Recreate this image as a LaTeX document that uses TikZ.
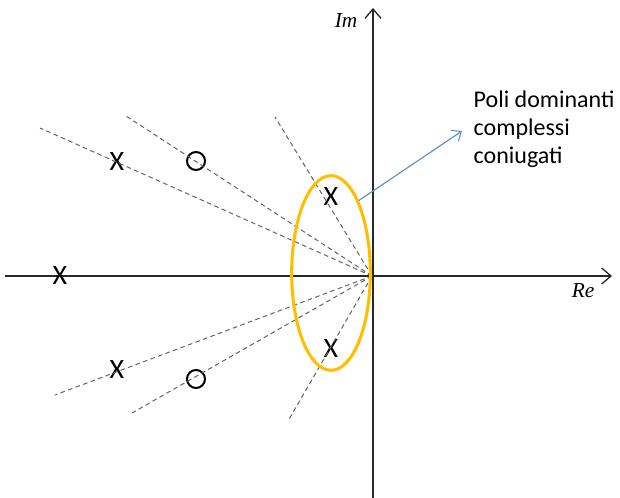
\documentclass[tikz,border=0pt]{standalone}
\usepackage{fontspec}
\setmainfont{Carlito}
\newfontfamily\mathlike{Liberation Serif}
\usetikzlibrary{arrows.meta,positioning,shapes.geometric}

\definecolor{axisgray}{RGB}{40,40,40}
\definecolor{dashgray}{RGB}{100,100,100}
\definecolor{gold}{RGB}{255,190,0}
\definecolor{arrowblue}{RGB}{100,145,205}

\begin{document}
\begin{tikzpicture}[
                    x=0.75pt, y=-0.75pt,
                    axis/.style={axisgray, line width=1.1pt, -{Straight Barb[length=7pt, width=12pt, line width=1pt]}},
                    radial/.style={dashgray, line width=0.75pt, dash pattern=on 3.5pt off 2.5pt},
                    pole/.style={inner sep=0pt, font=\fontsize{21}{21}\selectfont},
                    zero/.style={circle, draw, line width=1.5pt, minimum size=13.5pt, inner sep=0pt},
                    axlabel/.style={font=\mathlike\itshape\fontsize{16}{16}\selectfont},
                ]
                    \useasboundingbox (0,0) rectangle (620,498);

                    % axes
                    \coordinate (origin) at (372,276);
                    \coordinate (reL) at (5,276);
                    \coordinate (reR) at (612,276);
                    \coordinate (imB) at (373,498);
                    \coordinate (imT) at (373,8);
                    \draw[axis] (reL) -- (reR);
                    \draw[axis] (imB) -- (imT);
                    \node[axlabel] (im) at (346,21) {Im};
                    \node[axlabel] (re) at (583,291) {Re};

                    % poles and zeros
                    \node[pole] (p1) at (117,162) {X};
                    \node[pole] (p2) at (331,197) {X};
                    \node[pole] (p3) at (60,276) {X};
                    \node[pole] (p4) at (117,370) {X};
                    \node[pole] (p5) at (331,349) {X};
                    \node[zero] (z1) at (196,161) {};
                    \node[zero] (z2) at (196,379) {};

                    % dashed lines out of the origin
                    \coordinate (e1) at (40,128);
                    \coordinate (e2) at (126,116);
                    \coordinate (e3) at (275,117);
                    \coordinate (e4) at (55,395);
                    \coordinate (e5) at (132,413);
                    \coordinate (e6) at (288,421);
                    \foreach \e in {e1,e2,e3,e4,e5,e6}
                        \draw[radial] (origin) -- (\e);

                    % dominant poles
                    \node[draw=gold, line width=2.3pt, ellipse, minimum width=59pt, minimum height=146pt, inner sep=0pt] (dom) at (331,273) {};
                    \node[anchor=north west, align=left, font=\fontsize{18}{21}\selectfont] (note) at (469,86) {Poli dominanti\\complessi\\coniugati};
                    \coordinate (tip) at (462,131);
                    \draw[arrowblue, line width=0.9pt, -{Straight Barb[length=6pt, width=10pt, line width=0.8pt]}] (dom.69) -- (tip);
                \end{tikzpicture}
\end{document}
